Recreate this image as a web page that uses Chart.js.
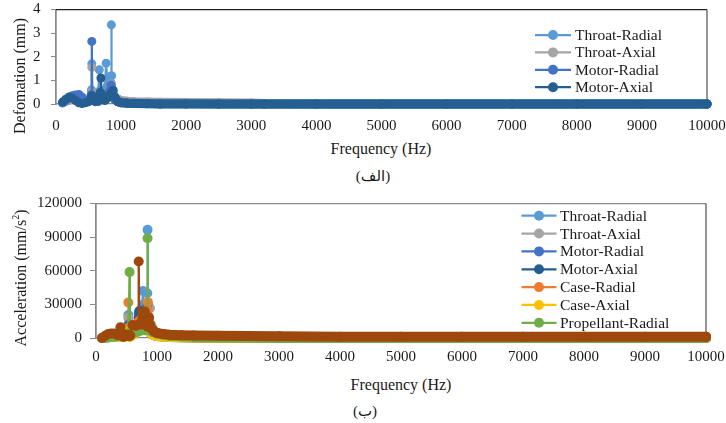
<!DOCTYPE html>
<html>
<head>
<meta charset="utf-8">
<script src="https://cdn.jsdelivr.net/npm/chart.js@4.4.1/dist/chart.umd.min.js"></script>
<style>
html, body { margin: 0; padding: 0; background: #fff; }
#wrap { position: relative; width: 726px; height: 423px; overflow: hidden; font-family: "Liberation Serif", "Times New Roman", serif; color: #1a1a1a; }
canvas { position: absolute; left: 0; }
.lbl { position: absolute; white-space: nowrap; transform: translate(-50%, -50%); font-size: 16px; line-height: 1; }
.rot { transform: translate(-50%, -50%) rotate(-90deg); }
.cap { font-family: "Liberation Serif", "DejaVu Sans", serif; font-size: 15px; }
sup { font-size: 10px; }
</style>
</head>
<body>
<div id="wrap">
  <canvas id="defChart" width="726" height="140" style="top:0px"></canvas>
  <canvas id="accChart" width="726" height="180" style="top:190px"></canvas>
  <div class="lbl rot" style="left:20px;top:76px">Defomation (mm)</div>
  <div class="lbl" style="left:381px;top:149px">Frequency (Hz)</div>
  <div class="lbl cap" dir="rtl" style="left:373px;top:176px">(الف)</div>
  <div class="lbl rot" style="left:20px;top:278px">Acceleration (mm/s<sup>2</sup>)</div>
  <div class="lbl" style="left:401px;top:385px">Frequency (Hz)</div>
  <div class="lbl cap" dir="rtl" style="left:365px;top:411px">(ب)</div>
</div>
<script>
// ---- top chart: deformation (mm) ----
const freqDef = [100, 150, 200, 250, 300, 350, 400, 450, 500, 530, 545, 550, 555, 570, 600, 650, 665, 680, 690, 700,
  720, 750, 770, 790, 810, 830, 845, 850, 855, 870, 880, 900, 950, 1000, 1100, 1200, 1400, 1600, 2000, 2500,
  3000, 3200, 4000, 5000, 6000, 7000, 8000, 9000, 10000];
const throatRadialDef = [0.05, 0.12, 0.2, 0.25, 0.3, 0.3, 0.22, 0.12, 0.15, 0.3, 0.6, 1.7, 0.5, 0.3, 0.25, 0.5, 1.45, 0.6, 0.4, 0.35,
  0.3, 0.6, 1.73, 0.8, 0.6, 1.16, 0.9, 3.35, 1.2, 0.5, 0.4, 0.3, 0.2, 0.12, 0.08, 0.05, 0.04, 0.03, 0.02, 0.01,
  0.01, 0, 0, 0, 0, 0, 0, 0, 0];
const throatAxialDef = [0.05, 0.1, 0.15, 0.2, 0.25, 0.3, 0.2, 0.1, 0.15, 0.3, 0.5, 1.55, 0.4, 0.3, 0.2, 0.3, 0.5, 0.4, 0.3, 0.3,
  0.3, 0.35, 0.4, 0.4, 0.5, 0.6, 0.7, 0.85, 0.6, 0.4, 0.3, 0.25, 0.2, 0.15, 0.12, 0.1, 0.08, 0.07, 0.06, 0.05,
  0.04, 0.02, 0, 0, 0, 0, 0, 0, 0];
const motorRadialDef = [0.05, 0.15, 0.25, 0.35, 0.38, 0.4, 0.3, 0.15, 0.1, 0.2, 0.4, 2.65, 0.3, 0.2, 0.15, 0.1, 0.2, 0.25, 0.3, 0.3,
  0.3, 0.35, 0.4, 0.4, 0.45, 0.6, 0.8, 0.7, 0.5, 0.4, 0.3, 0.2, 0.1, 0.06, 0.04, 0.03, 0.02, 0.01, 0.01, 0,
  0, 0, 0, 0, 0, 0, 0, 0, 0];
const motorAxialDef = [0.08, 0.2, 0.3, 0.25, 0.15, 0.05, 0.02, 0.05, 0.1, 0.2, 0.3, 0.35, 0.3, 0.2, 0.1, 0.15, 0.3, 0.5, 1.1, 0.4,
  0.2, 0.15, 0.2, 0.3, 0.3, 0.35, 0.4, 0.45, 0.5, 0.55, 0.57, 0.3, 0.1, 0.05, 0.03, 0.02, 0.01, 0, 0, 0,
  0, 0, 0, 0, 0, 0, 0, 0, 0];

// ---- bottom chart: acceleration (mm/s2) ----
const freqAcc = [100, 150, 200, 250, 300, 350, 400, 420, 450, 500, 525, 530, 535, 550, 555, 560, 600, 650, 690, 700,
  710, 750, 770, 780, 800, 820, 840, 845, 850, 870, 885, 900, 950, 1000, 1100, 1200, 1400, 1600, 2000, 2500,
  3000, 4000, 5000, 6000, 7000, 8000, 9000, 10000];
const throatRadialAcc = [0, 500, 1000, 1500, 2000, 2500, 3000, 3000, 2500, 4000, 8000, 20600, 6000, 4000, 3500, 3000, 6000, 10000, 15000, 18000,
  16000, 25000, 42000, 30000, 22000, 28000, 40000, 96500, 30000, 15000, 10000, 6000, 4000, 3000, 2000, 1500, 1000, 800, 500, 300,
  200, 0, 0, 0, 0, 0, 0, 0];
const throatAxialAcc = [0, 400, 800, 1200, 1500, 2000, 2500, 2500, 2000, 3000, 6000, 18000, 5000, 3000, 2500, 2500, 5000, 8000, 12000, 15000,
  14000, 18000, 20000, 22000, 20000, 22000, 25000, 15000, 20000, 18000, 26600, 12000, 6000, 4000, 3000, 2000, 1500, 1000, 800, 500,
  300, 0, 0, 0, 0, 0, 0, 0];
const motorRadialAcc = [0, 300, 600, 1000, 1200, 1500, 2000, 2000, 1500, 2500, 5000, 12000, 4000, 2500, 2000, 2000, 4000, 7000, 12000, 22000,
  15000, 20000, 24000, 25000, 18000, 16000, 20000, 30000, 18000, 12000, 8000, 5000, 3000, 2000, 1500, 1000, 800, 600, 400, 200,
  100, 0, 0, 0, 0, 0, 0, 0];
const motorAxialAcc = [0, 200, 500, 800, 1000, 1200, 1500, 1500, 1200, 2000, 4000, 10000, 3000, 2000, 1500, 1500, 3000, 6000, 10000, 18000,
  24000, 16000, 18000, 20000, 22000, 15000, 15000, 20000, 15000, 10000, 7000, 4000, 2500, 1800, 1200, 800, 600, 400, 300, 150,
  50, 0, 0, 0, 0, 0, 0, 0];
const caseRadialAcc = [0, 500, 1000, 1500, 2000, 2500, 3000, 3000, 2500, 4000, 9000, 31600, 8000, 4000, 3000, 3000, 5000, 8000, 12000, 15000,
  14000, 18000, 20000, 18000, 16000, 18000, 22000, 25000, 32000, 15000, 10000, 6000, 4000, 3000, 2000, 1500, 1000, 800, 500, 300,
  200, 0, 0, 0, 0, 0, 0, 0];
const caseAxialAcc = [0, 200, 400, 600, 800, 1000, 1200, 1200, 1000, 1500, 3000, 6000, 2000, 1500, 1200, 1200, 2500, 4000, 6000, 8000,
  7000, 8000, 9000, 9000, 8000, 9000, 10000, 11000, 12000, 8000, 6000, 4000, 2500, 1800, 1200, 800, 600, 400, 300, 150,
  50, 0, 0, 0, 0, 0, 0, 0];
const propRadialAcc = [0, 300, 600, 900, 1200, 1500, 1800, 1800, 1500, 2000, 2500, 3000, 4000, 58800, 5000, 3000, 4000, 5000, 6000, 7000,
  6000, 7000, 8000, 8000, 7000, 8000, 10000, 89000, 12000, 8000, 7000, 6000, 5000, 4000, 3000, 2000, 1500, 1000, 500, 200,
  0, 0, 0, 0, 0, 0, 0, 0];
const propAxialAcc = [0, 2000, 3500, 4000, 4000, 2500, 9600, 5000, 1000, 1500, 2000, 3000, 2000, 1500, 2000, 2500, 11600, 10700, 12000, 68300,
  12000, 12000, 15000, 20000, 23600, 14000, 12000, 10000, 12000, 18200, 12000, 9000, 6000, 4500, 3500, 3000, 2500, 2200, 2000, 1800,
  1500, 1200, 1200, 1200, 1200, 1200, 1200, 1200];

const defSeries = [
  { label: 'Throat-Radial', color: '#5B9BD5', values: throatRadialDef },
  { label: 'Throat-Axial', color: '#A5A5A5', values: throatAxialDef },
  { label: 'Motor-Radial', color: '#4472C4', values: motorRadialDef },
  { label: 'Motor-Axial', color: '#255E91', values: motorAxialDef }
];
const accSeries = [
  { label: 'Throat-Radial', color: '#5B9BD5', values: throatRadialAcc },
  { label: 'Throat-Axial', color: '#A5A5A5', values: throatAxialAcc },
  { label: 'Motor-Radial', color: '#4472C4', values: motorRadialAcc },
  { label: 'Motor-Axial', color: '#255E91', values: motorAxialAcc },
  { label: 'Case-Radial', color: '#ED7D31', values: caseRadialAcc },
  { label: 'Case-Axial', color: '#FFC000', values: caseAxialAcc },
  { label: 'Propellant-Radial', color: '#70AD47', values: propRadialAcc },
  { label: 'Propellant-Axial', color: '#9E480E', values: propAxialAcc, noLegend: true }
];

Chart.defaults.font.family = '"Liberation Serif", "Times New Roman", serif';
Chart.defaults.color = '#1a1a1a';

// legend sits inside the plot area, drawn by hand
const makeLegend = (items, o) => ({
  id: 'plotLegend',
  afterDraw(chart) {
    const ctx = chart.ctx;
    ctx.save();
    ctx.font = '15.5px "Liberation Serif", "Times New Roman", serif';
    ctx.textBaseline = 'middle';
    ctx.textAlign = 'left';
    items.forEach((it, i) => {
      const y = o.y + i * o.dy;
      ctx.strokeStyle = it.color;
      ctx.lineWidth = 2.25;
      ctx.beginPath(); ctx.moveTo(o.x, y); ctx.lineTo(o.x + o.len, y); ctx.stroke();
      ctx.fillStyle = it.color;
      ctx.beginPath(); ctx.arc(o.x + o.len / 2, y, o.r, 0, Math.PI * 2); ctx.fill();
      ctx.fillStyle = '#1a1a1a';
      ctx.fillText(it.label, o.x + o.len + o.gap, y + 1);
    });
    ctx.restore();
  }
});

// top + right edge of the plot area
const makeFrame = (topColor, rightColor) => ({
  id: 'plotFrame',
  beforeDatasetsDraw(chart) {
    const { ctx, chartArea: a } = chart;
    ctx.save();
    ctx.lineWidth = 1.25;
    ctx.strokeStyle = topColor;
    ctx.beginPath(); ctx.moveTo(a.left, a.top); ctx.lineTo(a.right, a.top); ctx.stroke();
    ctx.strokeStyle = rightColor;
    ctx.beginPath(); ctx.moveTo(a.right, a.top); ctx.lineTo(a.right, a.bottom); ctx.stroke();
    ctx.restore();
  }
});

function buildChart(id, freqs, series, o) {
  const datasets = series.map((s, i) => ({
    label: s.label,
    data: s.values.map((v, k) => ({ x: freqs[k], y: v })),
    borderColor: s.color,
    backgroundColor: s.color,
    pointBackgroundColor: s.color,
    pointBorderWidth: 0,
    pointRadius: o.radius,
    borderWidth: 2.25,
    borderCapStyle: 'round',
    borderJoinStyle: 'round',
    segment: { borderWidth: c => (c.p0.parsed.x >= 900 ? o.band : 2.25) },
    clip: false,
    order: series.length - i // later series on top, like the original
  }));

  return new Chart(document.getElementById(id), {
    type: 'line',
    data: { datasets: datasets },
    options: {
      responsive: false,
      animation: false,
      devicePixelRatio: 1,
      layout: { padding: { top: o.top, right: o.right, left: 0, bottom: 0 } },
      plugins: { legend: { display: false }, tooltip: { enabled: false } },
      scales: {
        x: {
          type: 'linear', min: 0, max: 10000,
          afterFit: s => { s.height = o.xh; s.paddingLeft = 0; s.paddingRight = 0; },
          ticks: { stepSize: 1000, padding: o.xpad, font: { size: 15 }, maxRotation: 0, autoSkip: false, callback: v => String(v) },
          grid: { display: false },
          border: { color: '#8a8a8a', width: 1.25 }
        },
        y: {
          min: 0, max: o.ymax,
          afterFit: s => { s.width = o.yw; s.paddingTop = 0; s.paddingBottom = 0; },
          ticks: { stepSize: o.ystep, padding: o.ypad, font: { size: 15 }, callback: v => String(v) },
          grid: { drawOnChartArea: false, drawTicks: true, tickLength: o.tick, color: '#8a8a8a' },
          border: { color: '#8a8a8a', width: 1.75 }
        }
      }
    },
    plugins: [
      makeFrame(o.topLine, o.rightLine),
      makeLegend(series.filter(s => !s.noLegend), o.legend)
    ]
  });
}

buildChart('defChart', freqDef, defSeries, {
  radius: 4.5, band: 9, top: 9.5, right: 19, xh: 36, xpad: 5, yw: 56, ypad: 10.5, tick: 5,
  ymax: 4, ystep: 1, topLine: '#222', rightLine: '#555',
  legend: { x: 535, y: 35, dy: 17.4, len: 36, r: 5, gap: 4 }
});

buildChart('accChart', freqAcc, accSeries, {
  radius: 5, band: 10, top: 13.5, right: 20, xh: 32, xpad: 2, yw: 96, ypad: 8, tick: 6,
  ymax: 120000, ystep: 30000, topLine: '#8a8a8a', rightLine: '#555',
  legend: { x: 521.5, y: 25.7, dy: 17.85, len: 35, r: 5, gap: 3.5 }
});
</script>
</body>
</html>
